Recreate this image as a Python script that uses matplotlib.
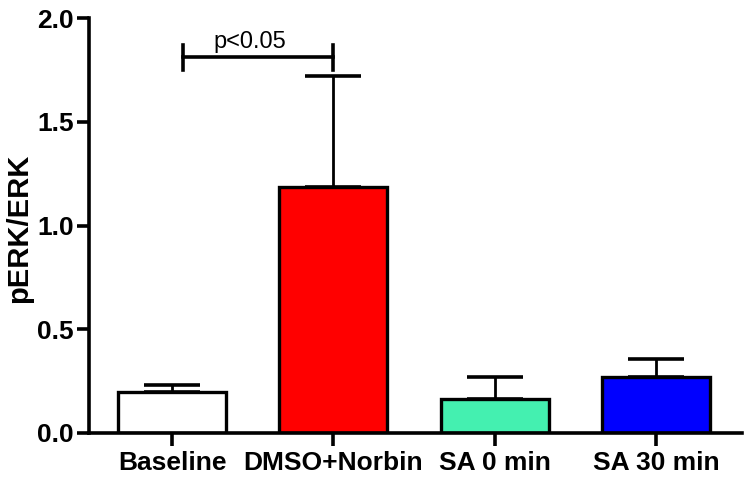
import matplotlib
matplotlib.use("Agg")
import matplotlib.pyplot as plt
import numpy as np

groups = ["Baseline", "DMSO+Norbin", "SA 0 min", "SA 30 min"]
means = [0.198, 1.185, 0.162, 0.268]
sems = [0.035, 0.535, 0.11, 0.09]
colors = ["#ffffff", "#ff0000", "#44f0b0", "#0000ff"]
y_ticks = [0.0, 0.5, 1.0, 1.5, 2.0]
sig_pair = (0.065, 1.0)
sig_y = 1.81
sig_text = "p<0.05"

plt.rcParams["font.family"] = ["Liberation Sans", "DejaVu Sans"]

fig = plt.figure(figsize=(7.46, 4.83), dpi=100)
ax = fig.add_axes([89 / 746, 1 - 433 / 483, (742 - 89) / 746, (433 - 18) / 483])

x = np.arange(len(groups))
ax.bar(x, means, width=0.67, color=colors, edgecolor="black", linewidth=2.4, zorder=2)
ax.errorbar(x, means, yerr=[np.zeros(len(sems)), sems], fmt="none", ecolor="black",
            elinewidth=2.0, capsize=20, capthick=2.6, zorder=1)

# significance bracket
ax.plot([sig_pair[0], sig_pair[1]], [sig_y, sig_y], color="black", lw=2.6, clip_on=False)
for xp in sig_pair:
    ax.plot([xp, xp], [sig_y - 0.06, sig_y + 0.06], color="black", lw=2.6, clip_on=False)
ax.text(0.48, 1.855, sig_text, ha="center", va="baseline", fontsize=17)

ax.set_xlim(-0.515, 3.534)
ax.set_ylim(0, 2.0)
ax.set_yticks(y_ticks)
ax.set_yticklabels([f"{v:.1f}" for v in y_ticks], fontsize=19, fontweight="bold")
ax.set_xticks(x)
ax.set_xticklabels(groups, fontsize=19, fontweight="bold")
ax.set_ylabel("pERK/ERK", fontsize=21, fontweight="bold")
ax.yaxis.set_label_coords(-0.086, 0.494)

for side in ["top", "right"]:
    ax.spines[side].set_visible(False)
for side in ["left", "bottom"]:
    ax.spines[side].set_linewidth(2.6)
ax.tick_params(axis="both", width=2.6, length=9, direction="out")
ax.tick_params(axis="y", pad=2)
ax.tick_params(axis="x", pad=4)

fig.savefig("out.png", dpi=100)
